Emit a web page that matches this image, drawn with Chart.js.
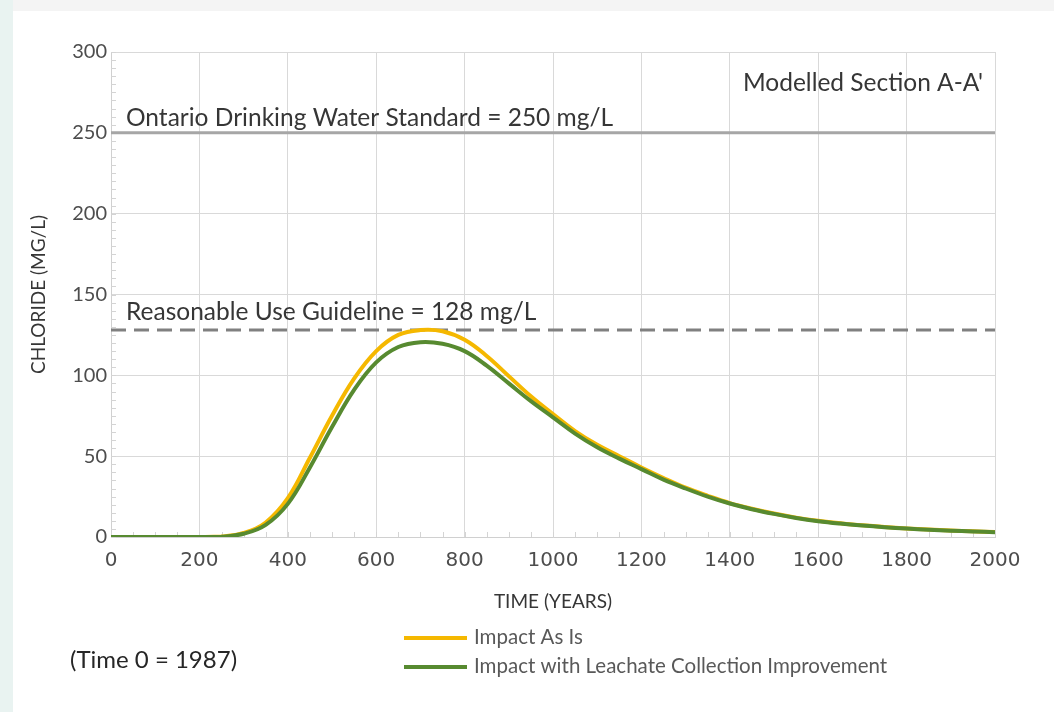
<!DOCTYPE html>
<html>
<head>
<meta charset="utf-8">
<title>Chloride - Modelled Section A-A'</title>
<script src="https://cdn.jsdelivr.net/npm/chart.js@4"></script>
<style>
    html, body { margin: 0; padding: 0; background: #fff; }
    #wrap { position: relative; width: 1054px; height: 712px; overflow: hidden; background: #fff; }
    #topStrip { position: absolute; left: 0; top: 0; width: 1054px; height: 11px; background: #f4f4f4; }
    #leftStrip { position: absolute; left: 0; top: 0; width: 13px; height: 712px; background: #e9f3f1; }
    canvas { position: absolute; left: 0; top: 0; }
</style>
</head>
<body>
<div id="wrap">
    <div id="topStrip"></div>
    <div id="leftStrip"></div>
    <canvas id="chlorideChart" width="1054" height="712"></canvas>
</div>
<script>
// Time axis (years since 1987)
const years = [0, 50, 100, 150, 200, 250, 300, 350, 400, 450, 500, 550, 600, 650, 700, 750, 800, 850, 900, 950,
    1000, 1050, 1100, 1150, 1200, 1250, 1300, 1350, 1400, 1450, 1500, 1550, 1600, 1650, 1700, 1750, 1800, 1850, 1900, 1950, 2000];

// Chloride (mg/L)
const impactAsIs = [0, 0, 0, 0, 0, 0.3, 2.5, 9, 24, 49, 75, 98, 115, 125, 128, 127.3, 122, 112, 99.5, 87,
    76, 65.5, 57, 50, 43, 36.5, 30.5, 25.5, 21, 17.5, 14.5, 12, 10, 8.5, 7.2, 6.2, 5.3, 4.6, 4, 3.5, 3.1];
const impactImproved = [0, 0, 0, 0, 0, 0.2, 2, 7.5, 20.5, 43, 68, 91, 108, 117.5, 120.5, 119.5, 115, 106, 95, 84,
    74, 64, 55.5, 48.5, 42, 35.5, 30, 25, 20.7, 17.2, 14.3, 11.8, 9.8, 8.3, 7.1, 6.1, 5.2, 4.5, 3.9, 3.4, 3.0];

const seriesLabels = ['Impact As Is', 'Impact with Leachate Collection Improvement'];

// Reference levels
const standardValue = 250;
const standardLabel = 'Ontario Drinking Water Standard = 250 mg/L';
const guidelineValue = 128;
const guidelineLabel = 'Reasonable Use Guideline = 128 mg/L';
const sectionLabel = "Modelled Section A-A'";
const timeNote = '(Time 0 = 1987)';

// Axis ranges
const xMin = 0, xMax = 2000, xStep = 200, xMinorStep = 50;
const yMin = 0, yMax = 300, yStep = 50, yMinorStep = 5;

const toPoints = (values) => values.map((v, i) => ({ x: years[i], y: v }));

const FONT = 'Lato, "Open Sans", sans-serif';

// minor tick marks, extra text and the stacked legend
const extrasPlugin = {
    id: 'extras',
    beforeDatasetsDraw(chart) {
        const ctx = chart.ctx;
        const xs = chart.scales.x, ys = chart.scales.y;
        ctx.save();
        ctx.strokeStyle = '#d4d4d4';
        ctx.lineWidth = 1;
        ctx.beginPath();
        for (let v = xMin; v <= xMax; v += xMinorStep) {
            const px = Math.round(xs.getPixelForValue(v)) + 0.5;
            ctx.moveTo(px, ys.bottom);
            ctx.lineTo(px, ys.bottom - 5);
        }
        for (let v = yMin; v <= yMax; v += yMinorStep) {
            const py = Math.round(ys.getPixelForValue(v)) + 0.5;
            ctx.moveTo(xs.left, py);
            ctx.lineTo(xs.left + 5, py);
        }
        ctx.stroke();
        ctx.restore();
    },
    afterDraw(chart) {
        const ctx = chart.ctx;
        const xs = chart.scales.x, ys = chart.scales.y;
        ctx.save();
        ctx.fillStyle = '#363636';
        ctx.textBaseline = 'alphabetic';
        ctx.font = '24.5px ' + FONT;
        ctx.textAlign = 'left';
        ctx.fillText(standardLabel, xs.left + 15, ys.getPixelForValue(standardValue) - 7);
        ctx.fillText(guidelineLabel, xs.left + 15, ys.getPixelForValue(guidelineValue) - 10);
        ctx.textAlign = 'right';
        ctx.fillText(sectionLabel, xs.right - 12, ys.top + 39);

        // time note
        ctx.textAlign = 'left';
        ctx.fillStyle = '#262626';
        ctx.font = '24px ' + FONT;
        ctx.fillText(timeNote, 70, 668);

        // legend, two stacked rows
        ctx.font = '20.5px ' + FONT;
        ctx.fillStyle = '#595959';
        const legendSets = chart.data.datasets.filter(d => d.inLegend);
        legendSets.forEach((ds, i) => {
            const rowY = 638 + i * 29;
            ctx.strokeStyle = ds.borderColor;
            ctx.lineWidth = 4;
            ctx.beginPath();
            ctx.moveTo(404, rowY);
            ctx.lineTo(467, rowY);
            ctx.stroke();
            ctx.textBaseline = 'middle';
            ctx.fillText(ds.label, 474, rowY - 1);
        });
        ctx.restore();
    }
};

const ctx = document.getElementById('chlorideChart').getContext('2d');
new Chart(ctx, {
    type: 'line',
    data: {
        datasets: [
            {
                label: seriesLabels[0],
                data: toPoints(impactAsIs),
                borderColor: '#f5b800',
                borderWidth: 4,
                pointRadius: 0,
                tension: 0.4,
                order: 1,
                inLegend: true
            },
            {
                label: seriesLabels[1],
                data: toPoints(impactImproved),
                borderColor: '#578a30',
                borderWidth: 4,
                pointRadius: 0,
                tension: 0.4,
                order: 0,
                inLegend: true
            },
            {
                label: standardLabel,
                data: [{ x: xMin, y: standardValue }, { x: xMax, y: standardValue }],
                borderColor: '#a6a6a6',
                borderWidth: 3,
                pointRadius: 0,
                order: 2
            },
            {
                label: guidelineLabel,
                data: [{ x: xMin, y: guidelineValue }, { x: xMax, y: guidelineValue }],
                borderColor: '#808080',
                borderWidth: 3,
                borderDash: [15, 8],
                pointRadius: 0,
                order: 3
            }
        ]
    },
    options: {
        responsive: false,
        animation: false,
        layout: { padding: { left: 0, right: 59, top: 52, bottom: 0 } },
        plugins: {
            legend: { display: false },
            tooltip: { enabled: false }
        },
        scales: {
            x: {
                type: 'linear',
                min: xMin,
                max: xMax,
                afterFit: (scale) => { scale.height = 175; },
                ticks: {
                    stepSize: xStep,
                    color: '#4d4d4d',
                    font: { family: '"DejaVu Sans", sans-serif', size: 20 },
                    padding: 12,
                    maxRotation: 0,
                    callback: (v) => String(v)
                },
                grid: { color: '#d9d9d9', drawTicks: false },
                border: { color: '#d0d0d0' },
                title: {
                    display: true,
                    text: 'TIME (YEARS)',
                    color: '#363636',
                    font: { family: FONT, size: 19 },
                    padding: { top: 0, bottom: 99 }
                }
            },
            y: {
                min: yMin,
                max: yMax,
                afterFit: (scale) => { scale.width = 111; },
                ticks: {
                    stepSize: yStep,
                    color: '#4d4d4d',
                    font: { family: FONT, size: 20 },
                    padding: 4
                },
                grid: { color: '#d9d9d9', drawTicks: false },
                border: { color: '#d0d0d0' },
                title: {
                    display: true,
                    text: 'CHLORIDE (MG/L)',
                    color: '#363636',
                    font: { family: FONT, size: 19 },
                    padding: { top: 27, bottom: 0 }
                }
            }
        }
    },
    plugins: [extrasPlugin]
});
</script>
</body>
</html>
